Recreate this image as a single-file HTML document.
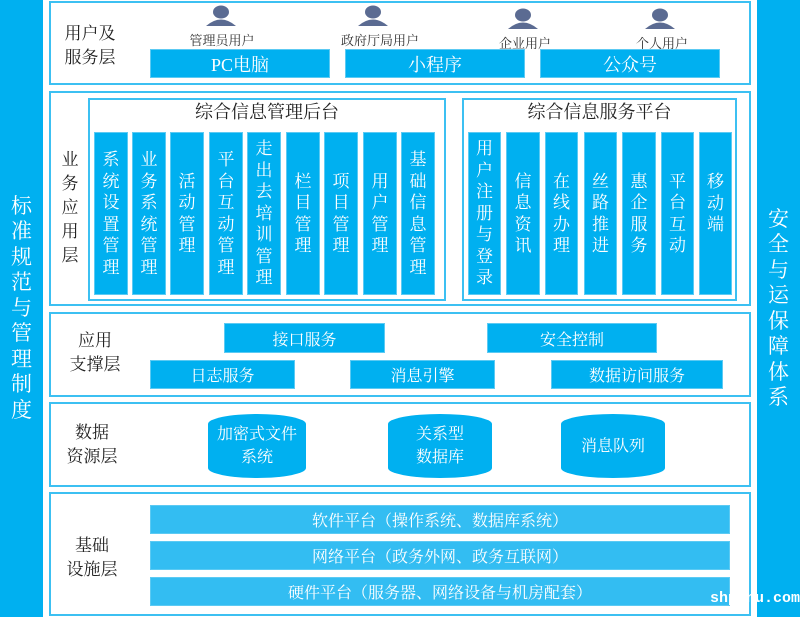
<!DOCTYPE html>
<html><head><meta charset="utf-8"><style>
*{margin:0;padding:0;box-sizing:border-box}
body{width:800px;height:617px;background:#fff;position:relative;overflow:hidden;font-family:"Liberation Serif","Noto Serif CJK SC",serif}
.a{position:absolute}
.bar{position:absolute;background:#00b0f0;color:#fff;display:flex;align-items:center;justify-content:center;text-align:center}
.lay{position:absolute;border:2px solid #3cc0f2;left:49px;width:702px}
.lbl{position:absolute;color:#222;font-size:17px;line-height:24px;text-align:center}
.col{position:absolute;background:#00b0f0;color:#fff;font-size:17px;line-height:21.5px;display:flex;align-items:center;justify-content:center;text-align:center;top:132px;height:163px;border:1px solid #5ccaf3}
.box{position:absolute;background:#00b0f0;color:#fff;font-size:16px;display:flex;align-items:center;justify-content:center;border:1px solid #5ccaf3}
.lt{background:#33bdf2}
.cyl{position:absolute;background:#00b0f0;color:#fff;font-size:16px;line-height:23px;display:flex;align-items:center;justify-content:center;text-align:center;border-radius:50%/10px}
.ulbl{position:absolute;font-size:13px;color:#333;width:110px;text-align:center;top:30px}
.side{font-size:21px;line-height:25.5px;width:43px}
</style></head><body>
<div class="bar side" style="left:0;top:0;width:43px;height:617px">标<br>准<br>规<br>范<br>与<br>管<br>理<br>制<br>度</div>
<div class="bar side" style="left:757px;top:0;width:43px;height:617px">安<br>全<br>与<br>运<br>保<br>障<br>体<br>系</div>

<div class="lay" style="top:1px;height:84px"></div>
<div class="lbl" style="left:55px;top:22px;width:70px">用户及<br>服务层</div>
<svg class="a" style="left:0;top:0" width="800" height="30">
<g fill="#5b6b92">
<g transform="translate(204,6)"><ellipse cx="17" cy="6" rx="8" ry="6.5"/><path d="M2 20 Q17 7 32 20 Z"/></g>
<g transform="translate(356,6)"><ellipse cx="17" cy="6" rx="8" ry="6.5"/><path d="M2 20 Q17 7 32 20 Z"/></g>
<g transform="translate(506,9)"><ellipse cx="17" cy="6" rx="8" ry="6.5"/><path d="M2 20 Q17 7 32 20 Z"/></g>
<g transform="translate(643,9)"><ellipse cx="17" cy="6" rx="8" ry="6.5"/><path d="M2 20 Q17 7 32 20 Z"/></g>
</g></svg>
<div class="ulbl" style="left:167px">管理员用户</div>
<div class="ulbl" style="left:325px">政府厅局用户</div>
<div class="ulbl" style="left:470px;top:33px">企业用户</div>
<div class="ulbl" style="left:607px;top:33px">个人用户</div>
<div class="box" style="left:150px;top:49px;width:180px;height:29px;font-size:18px">PC电脑</div>
<div class="box" style="left:345px;top:49px;width:180px;height:29px;font-size:18px">小程序</div>
<div class="box" style="left:540px;top:49px;width:180px;height:29px;font-size:18px">公众号</div>

<div class="lay" style="top:91px;height:215px"></div>
<div class="lbl" style="left:55px;top:148px;width:30px;font-size:17px;line-height:24px">业<br>务<br>应<br>用<br>层</div>
<div class="a" style="left:88px;top:98px;width:358px;height:203px;border:2px solid #3cc0f2"></div>
<div class="lbl" style="left:88px;top:100px;width:358px;font-size:18px">综合信息管理后台</div>
<div class="col" style="left:94px;width:34px">系<br>统<br>设<br>置<br>管<br>理</div>
<div class="col" style="left:132px;width:34px">业<br>务<br>系<br>统<br>管<br>理</div>
<div class="col" style="left:170px;width:34px">活<br>动<br>管<br>理</div>
<div class="col" style="left:209px;width:34px">平<br>台<br>互<br>动<br>管<br>理</div>
<div class="col" style="left:247px;width:34px">走<br>出<br>去<br>培<br>训<br>管<br>理</div>
<div class="col" style="left:286px;width:34px">栏<br>目<br>管<br>理</div>
<div class="col" style="left:324px;width:34px">项<br>目<br>管<br>理</div>
<div class="col" style="left:363px;width:34px">用<br>户<br>管<br>理</div>
<div class="col" style="left:401px;width:34px">基<br>础<br>信<br>息<br>管<br>理</div>
<div class="a" style="left:462px;top:98px;width:275px;height:203px;border:2px solid #3cc0f2"></div>
<div class="lbl" style="left:462px;top:100px;width:275px;font-size:18px">综合信息服务平台</div>
<div class="col" style="left:468px;width:33px">用<br>户<br>注<br>册<br>与<br>登<br>录</div>
<div class="col" style="left:506px;width:34px">信<br>息<br>资<br>讯</div>
<div class="col" style="left:545px;width:33px">在<br>线<br>办<br>理</div>
<div class="col" style="left:584px;width:33px">丝<br>路<br>推<br>进</div>
<div class="col" style="left:622px;width:34px">惠<br>企<br>服<br>务</div>
<div class="col" style="left:661px;width:33px">平<br>台<br>互<br>动</div>
<div class="col" style="left:699px;width:33px;padding-bottom:20px">移<br>动<br>端</div>

<div class="lay" style="top:312px;height:85px"></div>
<div class="lbl" style="left:60px;top:329px;width:70px">应用<br>支撑层</div>
<div class="box" style="left:224px;top:323px;width:161px;height:30px">接口服务</div>
<div class="box" style="left:487px;top:323px;width:170px;height:30px">安全控制</div>
<div class="box" style="left:150px;top:360px;width:145px;height:29px">日志服务</div>
<div class="box" style="left:350px;top:360px;width:145px;height:29px">消息引擎</div>
<div class="box" style="left:551px;top:360px;width:172px;height:29px">数据访问服务</div>

<div class="lay" style="top:402px;height:85px"></div>
<div class="lbl" style="left:57px;top:421px;width:70px">数据<br>资源层</div>
<div class="cyl" style="left:208px;top:414px;width:98px;height:64px">加密式文件<br>系统</div>
<div class="cyl" style="left:388px;top:414px;width:104px;height:64px">关系型<br>数据库</div>
<div class="cyl" style="left:561px;top:414px;width:104px;height:64px">消息队列</div>

<div class="lay" style="top:492px;height:124px"></div>
<div class="lbl" style="left:57px;top:534px;width:70px">基础<br>设施层</div>
<div class="box lt" style="left:150px;top:505px;width:580px;height:29px">软件平台（操作系统、数据库系统）</div>
<div class="box lt" style="left:150px;top:541px;width:580px;height:29px">网络平台（政务外网、政务互联网）</div>
<div class="box lt" style="left:150px;top:577px;width:580px;height:29px">硬件平台（服务器、网络设备与机房配套）</div>
<div class="a" style="left:710px;top:590px;color:#fff;font-family:'Liberation Mono',monospace;font-size:15px;font-weight:bold">shpanu.com</div>
</body></html>
